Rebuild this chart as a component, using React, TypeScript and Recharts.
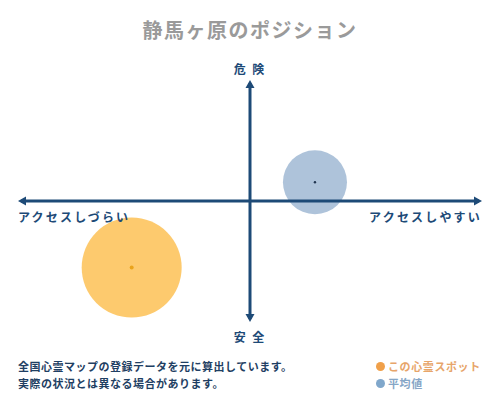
import { ScatterChart, Scatter, XAxis, YAxis, ZAxis, ReferenceLine, Label, Legend } from 'recharts';

// 値はすべて画像から読み取り
const seriesNames = ['この心霊スポット', '平均値'];
const spotPoint = [{ x: -5.1, y: -5.5, z: 100 }];
const averagePoint = [{ x: 2.8, y: 1.55, z: 41 }];
const xEndLabels = ['アクセスしづらい', 'アクセスしやすい'];
const yEndLabels = ['安 全', '危 険'];
const noteLines = ['全国心霊マップの登録データを元に算出しています。', '実際の状況とは異なる場合があります。'];

const AXIS = '#1d4a77';
const FONT = '"Noto Sans CJK JP", "Noto Sans", sans-serif';
const bubbleFill = ['#fdca6e', '#aec3da'];
const centerDot = ['#e9a31c', '#20344f'];
const legendDot = ['#f0a04a', '#80a7cb'];
const legendText = ['#e7a56a', '#86a6c6'];

const makeBubble = (i: number) => (p: any) => {
  const r = Math.sqrt((p.size || 0) / Math.PI);
  return (
    <g>
      <circle cx={p.cx} cy={p.cy} r={r} fill={bubbleFill[i]} />
      <circle cx={p.cx} cy={p.cy} r={i === 0 ? 2 : 1.2} fill={centerDot[i]} />
    </g>
  );
};

// 両端に矢印のある軸線
const ArrowLine = (p: any) => {
  const { x1, y1, x2, y2 } = p;
  const a = 8;
  const w = 4.5;
  if (Math.abs(y1 - y2) < 1) {
    const l = Math.min(x1, x2);
    const r = Math.max(x1, x2);
    const y = y1;
    return (
      <g>
        <line x1={l + 3} y1={y} x2={r - 3} y2={y} stroke={AXIS} strokeWidth={3} />
        <polygon points={`${l},${y} ${l + a},${y - w} ${l + a},${y + w}`} fill={AXIS} />
        <polygon points={`${r},${y} ${r - a},${y - w} ${r - a},${y + w}`} fill={AXIS} />
      </g>
    );
  }
  const t = Math.min(y1, y2);
  const b = Math.max(y1, y2);
  const x = x1;
  return (
    <g>
      <line x1={x} y1={t + 3} x2={x} y2={b - 3} stroke={AXIS} strokeWidth={3} />
      <polygon points={`${x},${t} ${x - w},${t + a} ${x + w},${t + a}`} fill={AXIS} />
      <polygon points={`${x},${b} ${x - w},${b - a} ${x + w},${b - a}`} fill={AXIS} />
    </g>
  );
};

const labelStyle = { fontFamily: FONT, fontSize: 12, fontWeight: 700, fill: AXIS };

const endLabel = (text: string, where: 'top' | 'bottom' | 'left' | 'right') => (props: any) => {
  const vb = props.viewBox;
  let x = vb.x + vb.width / 2;
  let y = vb.y + vb.height / 2;
  let anchor: any = 'middle';
  if (where === 'top') y = vb.y - 11.5;
  if (where === 'bottom') y = vb.y + vb.height + 14;
  if (where === 'left') { x = vb.x; y = vb.y + 15; anchor = 'start'; }
  if (where === 'right') { x = vb.x + vb.width; y = vb.y + 15; anchor = 'end'; }
  return (
    <text x={x} y={y} textAnchor={anchor} dominantBaseline="central" letterSpacing={where === 'top' || where === 'bottom' ? 2 : 2.2} style={labelStyle}>
      {text}
    </text>
  );
};

const LegendBox = (props: any) => (
  <div style={{ fontFamily: FONT, fontSize: 11, lineHeight: '17px', letterSpacing: 0.6 }}>
    {(props.payload || []).map((item: any, i: number) => (
      <div key={i} style={{ display: 'flex', alignItems: 'center', color: legendText[i], fontWeight: 700 }}>
        <span style={{ display: 'inline-block', width: 9, height: 9, borderRadius: '50%', background: legendDot[i], marginRight: 3 }} />
        {item.value}
      </div>
    ))}
  </div>
);

export default function App() {
  return (
    <div style={{ position: 'absolute', left: 0, top: 0, width: 500, height: 400, background: '#fff', fontFamily: FONT }}>
      <div style={{ position: 'absolute', left: 0, top: 15, width: 500, textAlign: 'center', fontSize: 20, fontWeight: 700, color: '#9a9a9a', letterSpacing: 1.5 }}>
        静馬ヶ原のポジション
      </div>
      <ScatterChart width={500} height={400} margin={{ top: 80, right: 18, bottom: 78, left: 18 }}>
        <XAxis type="number" dataKey="x" domain={[-10, 10]} hide />
        <YAxis type="number" dataKey="y" domain={[-10, 10]} hide />
        <ZAxis type="number" dataKey="z" domain={[0, 100]} range={[0, Math.PI * 2500]} />
        <Scatter name={seriesNames[0]} data={spotPoint} fill={bubbleFill[0]} shape={makeBubble(0)} isAnimationActive={false} zIndex={300} />
        <Scatter name={seriesNames[1]} data={averagePoint} fill={bubbleFill[1]} shape={makeBubble(1)} isAnimationActive={false} zIndex={300} />
        <ReferenceLine y={0} stroke={AXIS} shape={ArrowLine} zIndex={900}>
          <Label content={endLabel(xEndLabels[0], 'left')} />
          <Label content={endLabel(xEndLabels[1], 'right')} />
        </ReferenceLine>
        <ReferenceLine x={0} stroke={AXIS} shape={ArrowLine} zIndex={900}>
          <Label content={endLabel(yEndLabels[1], 'top')} />
          <Label content={endLabel(yEndLabels[0], 'bottom')} />
        </ReferenceLine>
        <Legend
          layout="vertical"
          align="center"
          verticalAlign="middle"
          content={LegendBox}
          wrapperStyle={{ left: 376, top: 358, width: 120 }}
        />
      </ScatterChart>
      <div style={{ position: 'absolute', left: 18, top: 358, fontSize: 11, lineHeight: '17px', fontWeight: 700, color: '#1f3f63', letterSpacing: 0.5 }}>
        {noteLines.map((t, i) => (
          <div key={i}>{t}</div>
        ))}
      </div>
    </div>
  );
}
